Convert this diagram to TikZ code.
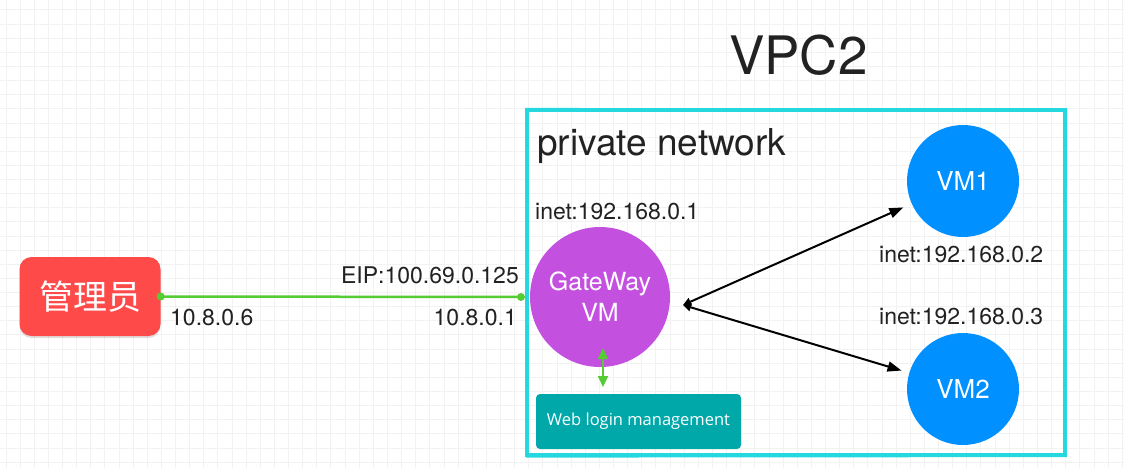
\documentclass[tikz,border=0pt]{standalone}
\usepackage{fontspec}
\setmainfont{TeX Gyre Heros}
\newfontfamily\cjk{Noto Sans CJK SC}
\newfontfamily\webfont{Open Sans}
\usetikzlibrary{arrows.meta,shadows}
\definecolor{adminred}{HTML}{FF4A4A}
\definecolor{gwpurple}{HTML}{C450E0}
\definecolor{vmblue}{HTML}{0090FF}
\definecolor{webteal}{HTML}{00A8AA}
\definecolor{linkgreen}{HTML}{55CC33}
\definecolor{vpccyan}{HTML}{25D8E0}
\definecolor{gridgray}{HTML}{F2F2F2}
\definecolor{txt}{HTML}{222222}
\tikzset{
  adminbox/.style={fill=adminred, rounded corners=12pt, minimum width=141pt, minimum height=79pt,
    text=white, font=\cjk\fontsize{34}{38}\selectfont, inner sep=0pt,
    drop shadow={opacity=0.25, shadow xshift=0pt, shadow yshift=-2pt}},
  gwcircle/.style={circle, fill=gwpurple, minimum size=140pt, inner sep=0pt, text=white,
    align=center, font=\fontsize{25}{31}\selectfont},
  vmcircle/.style={circle, fill=vmblue, minimum size=112pt, inner sep=0pt, text=white,
    font=\fontsize{26}{30}\selectfont},
  webbox/.style={fill=webteal, rounded corners=4pt, minimum width=205pt, minimum height=55pt,
    inner sep=0pt, text=white, font=\webfont\fontsize{16.5}{20}\selectfont},
  lbl/.style={text=txt, font=\fontsize{23}{27}\selectfont, inner sep=0pt},
  greenlink/.style={draw=linkgreen, line width=2.5pt},
  greendot/.style={circle, fill=linkgreen, minimum size=8pt, inner sep=0pt},
  garrow/.style={draw=linkgreen, line width=2pt, {Triangle[width=10pt,length=11pt]}-{Triangle[width=10pt,length=11pt]}},
  barrow/.style={draw=black, line width=2pt, {Triangle[width=8pt,length=8pt]}-{Triangle[width=10pt,length=14pt]}},
  vpcframe/.style={draw=vpccyan, line width=4pt},
}
\begin{document}
\begin{tikzpicture}[x=1pt,y=-1pt]
\useasboundingbox (0,0) rectangle (1124,468);
\fill[white] (0,0) rectangle (1124,468);
% faint grid
\foreach \i in {0,...,79} {
  \draw[gridgray, line width=1pt] ({6+14.13*\i},0) -- ({6+14.13*\i},468);
}
\foreach \j in {0,...,33} {
  \draw[gridgray, line width=1pt] (0,{10+14.13*\j}) -- (1124,{10+14.13*\j});
}
% VPC frame
\draw[vpcframe] (527,110) rectangle (1065,455);
\draw[vpccyan, line width=1.2pt] (525.5,108.5) -- (1066.5,109.5) -- (1066,456.5) -- (526,457);
\node[lbl, font=\fontsize{53}{60}\selectfont, anchor=base west] (vpc) at (729,75) {VPC2};
\node[lbl, font=\fontsize{37}{42}\selectfont, anchor=base west] (pn) at (537,155) {private network};

% nodes
\node[adminbox] (admin) at (90,296.5) {管理员};
\node[gwcircle] (gw) at (600,297) {GateWay\\VM};
\node[vmcircle] (vm1) at (963,181) {VM1};
\node[vmcircle] (vm2) at (963,389) {VM2};
\node[webbox] (web) at (638.5,421.5) {Web login management};

% labels
\node[lbl, anchor=base east] (eip) at (519,283) {EIP:100.69.0.125};
\node[lbl, anchor=base west] (ipa) at (170,325) {10.8.0.6};
\node[lbl, anchor=base east] (ipb) at (517,325) {10.8.0.1};
\node[lbl, anchor=base west] (ip1) at (535,219) {inet:192.168.0.1};
\node[lbl, anchor=base west] (ip2) at (879,262.5) {inet:192.168.0.2};
\node[lbl, anchor=base west] (ip3) at (879,324) {inet:192.168.0.3};

% green link
\coordinate (eipend) at (521,297);
\draw[greenlink] (admin.east) -- (eipend);
\node[greendot] (d1) at (admin.east) {};
\node[greendot] (d2) at (eipend) {};

% gateway to web
\coordinate (gwb) at (603,348);
\coordinate (webtop) at (603,387);
\draw[garrow] (gwb) -- (webtop);

% hub arrows
\coordinate (hub) at (683,305);
\draw[barrow, shorten >=9pt] (hub) -- (vm1);
\draw[barrow, shorten >=8pt] (hub) -- (vm2);
\end{tikzpicture}
\end{document}
